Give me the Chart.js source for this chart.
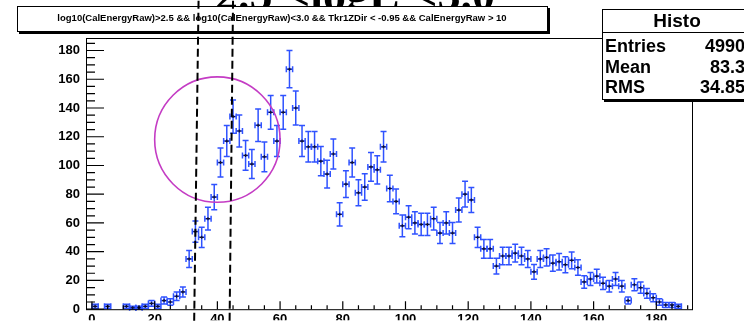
<!DOCTYPE html>
<html>
<head>
  <meta charset="UTF-8">
  <title>CalEnergyRaw histogram</title>
  <script src="https://cdn.jsdelivr.net/npm/chart.js"></script>
  <style>
    html, body { margin: 0; padding: 0; background: #fff; }
    #wrap { width: 744px; height: 323px; position: relative; }
  </style>
</head>
<body>
  <div id="wrap"><canvas id="histo" width="744" height="323"></canvas></div>

  <script>
    // bin centres (bins are 2 wide, empty bins left out) and their counts
    const binCenters = [1, 5, 11, 13, 15, 17, 19, 21, 23, 25, 27, 29,
      31, 33, 35, 37, 39, 41, 43, 45, 47, 49, 51, 53, 55, 57, 59, 61, 63, 65, 67, 69, 71,
      73, 75, 77, 79, 81, 83, 85, 87, 89, 91, 93, 95, 97, 99, 101, 103, 105, 107, 109, 111,
      113, 115, 117, 119, 121, 123, 125, 127, 129, 131, 133, 135, 137, 139, 141, 143, 145,
      147, 149, 151, 153, 155, 157, 159, 161, 163, 165, 167, 169, 171, 173, 175, 177, 179,
      181, 183, 185, 187];
    const counts = [2, 2, 2, 1, 1, 2, 4, 2, 6, 5, 9, 12,
      35, 54, 50, 63, 78, 102, 117, 134, 124, 107, 101, 128, 106, 137, 117, 137, 167, 140, 117, 113, 113,
      103, 94, 108, 66, 87, 102, 81, 85, 99, 97, 113, 84, 75, 58, 64, 60, 59, 59, 63, 53,
      60, 53, 69, 80, 76, 50, 42, 42, 30, 37, 37, 39, 37, 35, 26, 35, 36,
      32, 33, 31, 34, 29, 19, 21, 23, 18, 16, 21, 16, 6, 17, 15, 11, 8,
      5, 3, 3, 2];
    const binWidth = 2;

    const xTicks = [0, 20, 40, 60, 80, 100, 120, 140, 160, 180];
    const yTicks = [0, 20, 40, 60, 80, 100, 120, 140, 160, 180];

    const plotTitle = '2.5 <logE <3.0';
    const cutText = 'log10(CalEnergyRaw)>2.5 && log10(CalEnergyRaw)<3.0 && Tkr1ZDir < -0.95 && CalEnergyRaw > 10';
    const statsName = 'Histo';
    const statsLabels = ['Entries', 'Mean', 'RMS'];
    const statsValues = ['4990', '83.3', '34.85'];

    const BLUE = '#2f52ff';
    const SANS = '"Liberation Sans", Arial, sans-serif';

    Chart.defaults.font.family = SANS;

    // white page behind everything
    const background = {
      id: 'background',
      beforeDraw(chart) {
        const c = chart.ctx;
        c.save();
        c.fillStyle = '#fff';
        c.fillRect(0, 0, chart.width, chart.height);
        c.restore();
      }
    };

    // sqrt(N) error bars with end caps, ROOT E1 style
    const errorBars = {
      id: 'errorBars',
      afterDatasetsDraw(chart) {
        const { ctx: c, scales: { x, y } } = chart;
        const cap = 3;
        c.save();
        binCenters.forEach((xc, i) => {
          const n = counts[i];
          const e = Math.sqrt(n);
          const px = x.getPixelForValue(xc);
          const py = y.getPixelForValue(n);
          const xl = x.getPixelForValue(xc - binWidth / 2);
          const xr = x.getPixelForValue(xc + binWidth / 2);
          const yt = y.getPixelForValue(n + e);
          const yb = y.getPixelForValue(Math.max(n - e, 0));
          c.strokeStyle = BLUE;
          c.lineWidth = 1.5;
          c.beginPath();
          c.moveTo(xl, py); c.lineTo(xr, py);
          c.moveTo(px, yt); c.lineTo(px, yb);
          c.moveTo(px - cap, yt); c.lineTo(px + cap, yt);
          c.moveTo(px - cap, yb); c.lineTo(px + cap, yb);
          c.moveTo(xl, py - cap); c.lineTo(xl, py + cap);
          c.moveTo(xr, py - cap); c.lineTo(xr, py + cap);
          c.stroke();
          // dark marker at the bin centre
          c.strokeStyle = '#101030';
          c.lineWidth = 1.2;
          c.beginPath();
          c.moveTo(px - 2, py); c.lineTo(px + 2, py);
          c.moveTo(px, py - 1.5); c.lineTo(px, py + 1.5);
          c.stroke();
        });
        c.restore();
      }
    };

    // frame, inward ticks, hand-drawn cut marks and the text boxes
    const decorations = {
      id: 'decorations',
      afterDraw(chart) {
        const { ctx: c, chartArea: a, scales: { x, y } } = chart;
        c.save();

        // frame
        c.strokeStyle = '#000';
        c.lineWidth = 1;
        c.strokeRect(a.left + 0.5, a.top + 0.5, a.right - a.left - 1, a.bottom - a.top);

        // ticks pointing into the frame
        c.lineWidth = 1.2;
        c.beginPath();
        for (let v = 0; v <= 190; v += 5) {
          const px = x.getPixelForValue(v);
          const len = v % 20 === 0 ? 8 : 4;
          c.moveTo(px, a.bottom); c.lineTo(px, a.bottom - len);
        }
        for (let v = 0; v <= 185; v += 5) {
          const py = y.getPixelForValue(v);
          const len = v % 20 === 0 ? 18 : 9;
          c.moveTo(a.left, py); c.lineTo(a.left + len, py);
        }
        c.stroke();

        // circle around the peak region
        const cx = x.getPixelForValue(40);
        const cy = y.getPixelForValue(118);
        const r = x.getPixelForValue(60) - x.getPixelForValue(40);
        c.strokeStyle = '#c43cc4';
        c.lineWidth = 1.6;
        c.beginPath();
        c.arc(cx, cy, r, 0, Math.PI * 2);
        c.stroke();

        // big title, mostly hidden under the cut box
        c.fillStyle = '#000';
        c.font = 'bold 46px "Liberation Serif", "Times New Roman", serif';
        c.textAlign = 'center';
        c.textBaseline = 'alphabetic';
        c.fillText(plotTitle, 355, 10);

        // cut box
        c.fillStyle = '#000';
        c.fillRect(19, 8, 531, 26);
        c.fillStyle = '#fff';
        c.fillRect(17, 6, 531, 26);
        c.strokeStyle = '#000';
        c.lineWidth = 1;
        c.strokeRect(17.5, 6.5, 530, 25);
        c.fillStyle = '#000';
        c.font = 'bold 9.5px ' + SANS;
        c.textAlign = 'center';
        c.fillText(cutText, 282, 20.5);

        // stats box
        c.fillStyle = '#000';
        c.fillRect(604, 11, 160, 91);
        c.fillStyle = '#fff';
        c.fillRect(602, 9, 160, 91);
        c.strokeRect(602.5, 9.5, 160, 90);
        c.beginPath();
        c.moveTo(602, 32.5); c.lineTo(762, 32.5);
        c.stroke();
        c.fillStyle = '#000';
        c.font = 'bold 19px ' + SANS;
        c.textAlign = 'center';
        c.fillText(statsName, 677, 27);
        c.font = 'bold 18px ' + SANS;
        const rows = [52, 72.5, 93];
        statsLabels.forEach((lab, i) => {
          c.textAlign = 'left';
          c.fillText(lab, 605, rows[i]);
          c.textAlign = 'right';
          c.fillText(statsValues[i], 745, rows[i]);
        });

        // dashed cut lines, drawn over everything
        const cuts = [[32.6, 34.0], [43.9, 45.0]];
        c.strokeStyle = '#000';
        c.lineWidth = 2;
        c.setLineDash([8, 4]);
        cuts.forEach(([xb, xt]) => {
          c.beginPath();
          c.moveTo(x.getPixelForValue(xb), y.getPixelForValue(-8));
          c.lineTo(x.getPixelForValue(xt), y.getPixelForValue(215));
          c.stroke();
        });
        c.restore();
      }
    };

    const tickFont = { family: SANS, size: 13, weight: 'bold' };

    new Chart(document.getElementById('histo'), {
      type: 'scatter',
      data: {
        datasets: [{
          label: statsName,
          data: binCenters.map((xc, i) => ({ x: xc, y: counts[i] })),
          pointRadius: 0,
          showLine: false
        }]
      },
      options: {
        responsive: false,
        animation: false,
        devicePixelRatio: 1,
        layout: { padding: { top: 38, right: 51, left: 0, bottom: 0 } },
        plugins: {
          legend: { display: false },
          tooltip: { enabled: false }
        },
        scales: {
          x: {
            type: 'linear',
            min: -1.9,
            max: 191.7,
            grid: { display: false, drawTicks: false },
            border: { display: false },
            afterBuildTicks: s => { s.ticks = xTicks.map(v => ({ value: v })); },
            afterFit: s => { s.height = 11; },
            ticks: { font: tickFont, color: '#000', padding: 2, maxRotation: 0, autoSkip: false }
          },
          y: {
            min: 0,
            max: 188.7,
            grid: { display: false, drawTicks: false },
            border: { display: false },
            afterBuildTicks: s => { s.ticks = yTicks.map(v => ({ value: v })); },
            afterFit: s => { s.width = 86; },
            ticks: { font: tickFont, color: '#000', padding: 6, autoSkip: false }
          }
        }
      },
      plugins: [background, errorBars, decorations]
    });
  </script>
</body>
</html>
